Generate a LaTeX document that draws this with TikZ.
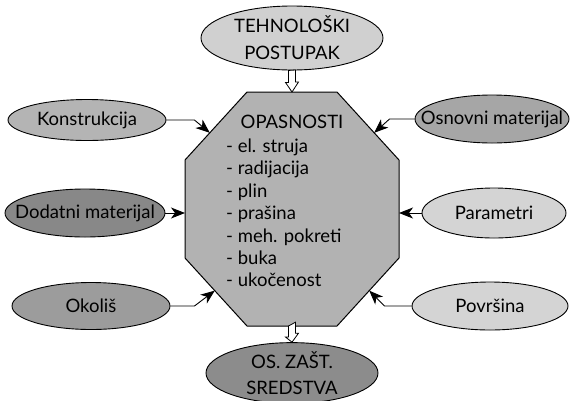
\documentclass[tikz,border=0pt]{standalone}
\usepackage{fontspec}
\setmainfont{Lato}
\usetikzlibrary{shapes.geometric,arrows.meta,calc}
\definecolor{gTech}{HTML}{D0D0D0}
\definecolor{gKon}{HTML}{B4B4B4}
\definecolor{gOsn}{HTML}{A6A6A6}
\definecolor{gDod}{HTML}{888888}
\definecolor{gPar}{HTML}{D4D4D4}
\definecolor{gOko}{HTML}{9C9C9C}
\definecolor{gPov}{HTML}{D4D4D4}
\definecolor{gOse}{HTML}{8C8C8C}
\definecolor{gOct}{HTML}{B2B2B2}
\newcommand{\zb}[1]{\makebox[0pt]{#1}}
\begin{document}
\begin{tikzpicture}[x=1pt,y=-1pt,
  ell/.style={ellipse, draw=black, line width=0.9pt, inner sep=0pt, align=center,
    font=\fontsize{18.5}{22}\selectfont},
  conn/.style={line width=0.9pt, -{Stealth[length=14pt,width=11pt,inset=4pt]}},
  hollow/.style={draw=black, fill=white, line width=0.8pt, line join=miter},
  octo/.style={draw=black, fill=gOct, line width=1pt, line join=miter},
  txt/.style={font=\fontsize{18.5}{22.4}\selectfont, inner sep=0pt}]
\useasboundingbox (0,0) rectangle (570,400);

% octagon vertices
\coordinate (A) at (247,92);
\coordinate (B) at (337,92);
\coordinate (C) at (399,160);
\coordinate (D) at (399,258);
\coordinate (E) at (337,326);
\coordinate (F) at (247,326);
\coordinate (G) at (185,258);
\coordinate (H) at (185,160);
\draw[octo] (A) -- (B) -- (C) -- (D) -- (E) -- (F) -- (G) -- (H) -- cycle;

\node[txt] (title) at (292,122) {OPASNOSTI};
\node[txt, anchor=west, align=left] (list) at (226,213)
  {- el. struja\\- radijacija\\- plin\\- prašina\\- meh. pokreti\\- buka\\- ukočenost};

% surrounding ellipses
\node[ell, fill=gTech, minimum width=182pt, minimum height=64pt] (tech) at (292,38)
  {\zb{TEHNOLOŠKI}\\[5pt]\zb{POSTUPAK}};
\node[ell, fill=gKon, minimum width=158pt, minimum height=41pt] (kon) at (87,120) {\zb{Konstrukcija}};
\node[ell, fill=gOsn, minimum width=154pt, minimum height=48pt] (osn) at (492,119) {\zb{Osnovni materijal}};
\node[ell, fill=gDod, minimum width=160pt, minimum height=48pt] (dod) at (85,213) {\zb{Dodatni materijal}};
\node[ell, fill=gPar, minimum width=144pt, minimum height=50pt] (par) at (494,213) {\zb{Parametri}};
\node[ell, fill=gOko, minimum width=158pt, minimum height=47pt] (oko) at (91,306) {\zb{Okoliš}};
\node[ell, fill=gPov, minimum width=156pt, minimum height=48pt] (pov) at (490,306) {\zb{Površina}};
\node[ell, fill=gOse, minimum width=172pt, minimum height=54pt] (ose) at (292,373)
  {\zb{OS. ZAŠT.}\\[4pt]\zb{SREDSTVA}};

% arrow targets on the octagon
\coordinate (tK) at ($(H)!0.4!(A)$);
\coordinate (tO) at ($(C)!0.4!(B)$);
\coordinate (tL) at ($(G)!0.48!(F)$);
\coordinate (tP) at ($(D)!0.48!(E)$);
\coordinate (tD) at (185,213);
\coordinate (tR) at (399,213);
\coordinate (topin) at ($(A)!0.5!(B)$);
\coordinate (botout) at ($(F)!0.5!(E)$);

% connectors
\draw[conn] (kon.east) -- ++(28,0) -- (tK);
\draw[conn] (osn.west) -- ++(-25,0) -- (tO);
\draw[conn] (oko.east) -- ++(24,0) -- (tL);
\draw[conn] (pov.west) -- ++(-27,0) -- (tP);
\draw[conn] (dod.east) -- (tD);
\draw[conn] (par.west) -- (tR);

% hollow block arrows
\draw[hollow] ($(tech.south)+(-3.5,0)$) -- ++(0,12) -- ++(-3,0) -- (topin)
  -- ++(6.5,-10) -- ++(-3,0) -- ++(0,-12) -- cycle;
\draw[hollow] ($(botout)+(-3.5,0)$) -- ++(0,11) -- ++(-3,0) -- (ose.north)
  -- ++(6.5,-9) -- ++(-3,0) -- ++(0,-11) -- cycle;
\end{tikzpicture}
\end{document}
